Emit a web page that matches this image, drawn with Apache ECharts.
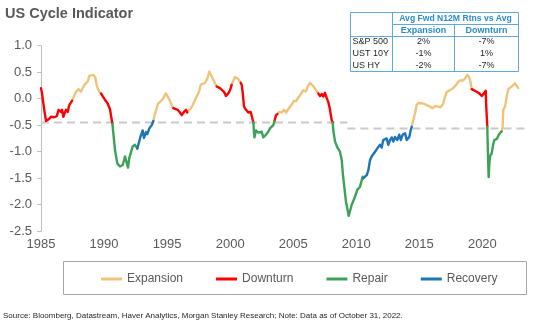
<!DOCTYPE html>
<html>
<head>
<meta charset="utf-8">
<script src="https://cdn.jsdelivr.net/npm/echarts@6/dist/echarts.min.js"></script>
<style>html,body{margin:0;padding:0;background:#fff;}#c{width:546px;height:322px;}</style>
</head>
<body>
<div id="c"></div>
<script>
// ---- data (year, indicator value) ----
const xTickYears = [1985, 1990, 1995, 2000, 2005, 2010, 2015, 2020];
const yTicks = [1.0, 0.5, 0.0, -0.5, -1.0, -1.5, -2.0, -2.5];

const expansion = [
  [[1987.46,-0.04],[1987.78,0.13],[1987.99,0.18],[1988.17,0.13],[1988.43,0.26],[1988.57,0.23],[1988.70,0.32],[1988.83,0.43],[1988.97,0.40],[1989.15,0.45],[1989.31,0.40],[1989.44,0.23],[1989.62,0.13],[1989.76,0.10]],
  [[1993.91,-0.42],[1994.04,-0.28],[1994.30,-0.09],[1994.57,-0.03],[1994.70,0.01],[1994.89,0.10],[1995.02,0.07],[1995.17,-0.01],[1995.36,-0.12],[1995.49,-0.18]],
  [[1996.60,-0.26],[1996.82,-0.20],[1997.03,-0.12],[1997.21,-0.03],[1997.35,0.04],[1997.53,0.13],[1997.66,0.26],[1997.82,0.28],[1998.01,0.30],[1998.19,0.38],[1998.35,0.51],[1998.48,0.48],[1998.62,0.38],[1998.80,0.29],[1998.93,0.23]],
  [[2000.12,0.26],[2000.25,0.34],[2000.38,0.41],[2000.65,0.37],[2000.84,0.30]],
  [[2003.74,-0.29],[2003.90,-0.25],[2004.09,-0.26],[2004.27,-0.21],[2004.43,-0.26],[2004.61,-0.20],[2004.75,-0.23],[2004.88,-0.11],[2005.06,-0.04],[2005.22,-0.05],[2005.40,0.02],[2005.59,0.08],[2005.80,0.16],[2006.01,0.14],[2006.15,0.23],[2006.33,0.30],[2006.47,0.28],[2006.65,0.22],[2006.81,0.16],[2006.99,0.10]],
  [[2014.40,-0.53],[2014.52,-0.40],[2014.66,-0.28],[2014.79,-0.12],[2014.92,-0.08],[2015.06,-0.06],[2015.32,-0.09],[2015.59,-0.12],[2015.85,-0.15],[2016.06,-0.18],[2016.24,-0.14],[2016.51,-0.15],[2016.70,-0.16],[2016.90,-0.09],[2017.04,0.04],[2017.17,0.13],[2017.43,0.16],[2017.70,0.20],[2017.91,0.26],[2018.09,0.32],[2018.28,0.35],[2018.44,0.34],[2018.62,0.38],[2018.81,0.45],[2018.96,0.40],[2019.08,0.29],[2019.16,0.18]],
  [[2021.53,-0.62],[2021.61,-0.53],[2021.66,-0.21],[2021.80,-0.15],[2021.93,0.04],[2022.06,0.18],[2022.19,0.20],[2022.33,0.23],[2022.45,0.22],[2022.59,0.29],[2022.72,0.24],[2022.85,0.20]]
];

const downturn = [
  [[1985.00,0.20],[1985.08,0.10],[1985.26,-0.21],[1985.40,-0.42],[1985.66,-0.38],[1985.79,-0.34],[1986.05,-0.35],[1986.25,-0.33],[1986.40,-0.21],[1986.59,-0.25],[1986.67,-0.21],[1986.77,-0.34],[1986.98,-0.21],[1987.12,-0.25],[1987.24,-0.12],[1987.46,-0.04]],
  [[1989.76,0.10],[1989.89,0.05],[1990.10,-0.03],[1990.29,-0.09],[1990.47,-0.20],[1990.63,-0.43],[1990.66,-0.47]],
  [[1995.49,-0.18],[1995.63,-0.15],[1995.84,-0.21],[1996.02,-0.26],[1996.16,-0.31],[1996.34,-0.25],[1996.50,-0.21],[1996.60,-0.26]],
  [[1998.93,0.23],[1999.06,0.26],[1999.19,0.20],[1999.33,0.23],[1999.51,0.13],[1999.67,0.05],[1999.85,0.10],[1999.99,0.16],[2000.12,0.26]],
  [[2000.84,0.30],[2000.92,0.26],[2001.00,0.10],[2001.10,-0.15],[2001.26,-0.21],[2001.44,-0.26],[2001.63,-0.25],[2001.73,-0.34],[2001.84,-0.45]],
  [[2003.50,-0.43],[2003.64,-0.31],[2003.74,-0.29]],
  [[2006.99,0.10],[2007.13,0.05],[2007.26,0.09],[2007.39,0.04],[2007.52,0.11],[2007.66,0.01],[2007.78,-0.06],[2007.92,-0.21],[2008.05,-0.40],[2008.13,-0.45]],
  [[2019.16,0.18],[2019.29,0.15],[2019.55,0.13],[2019.76,0.10],[2019.95,0.05],[2020.08,0.03],[2020.16,0.11],[2020.27,0.15],[2020.30,-0.10],[2020.39,-0.53]]
];

const repair = [
  [[1990.66,-0.47],[1990.87,-0.97],[1991.05,-1.22],[1991.26,-1.28],[1991.48,-1.25],[1991.66,-1.09],[1991.80,-1.10],[1991.90,-1.30],[1992.00,-1.12],[1992.11,-1.03],[1992.27,-0.90],[1992.45,-0.87],[1992.59,-0.90],[1992.64,-0.94]],
  [[2001.84,-0.45],[2001.92,-0.73],[2002.05,-0.60],[2002.23,-0.64],[2002.37,-0.67],[2002.50,-0.62],[2002.63,-0.73],[2002.84,-0.68],[2003.03,-0.62],[2003.16,-0.56],[2003.30,-0.59],[2003.42,-0.50],[2003.50,-0.43]],
  [[2008.13,-0.45],[2008.18,-0.60],[2008.31,-0.80],[2008.50,-0.92],[2008.71,-1.00],[2008.85,-1.16],[2008.95,-1.45],[2009.07,-1.70],[2009.19,-1.95],[2009.40,-2.21],[2009.64,-2.00],[2009.90,-1.85],[2010.08,-1.72],[2010.30,-1.66],[2010.51,-1.47],[2010.56,-1.50]],
  [[2020.39,-0.53],[2020.45,-1.10],[2020.50,-1.48],[2020.56,-1.20],[2020.62,-1.08],[2020.74,-1.03],[2020.87,-0.85],[2020.95,-0.78],[2021.05,-0.80],[2021.15,-0.76],[2021.30,-0.68],[2021.42,-0.64],[2021.53,-0.62]]
];

const recovery = [
  [[1992.64,-0.94],[1992.85,-0.75],[1993.06,-0.60],[1993.17,-0.74],[1993.33,-0.63],[1993.43,-0.67],[1993.59,-0.56],[1993.78,-0.50],[1993.91,-0.42]],
  [[2010.56,-1.50],[2010.83,-1.44],[2010.96,-1.35],[2011.09,-1.16],[2011.22,-1.09],[2011.35,-1.12],[2011.49,-1.00],[2011.62,-0.97],[2011.75,-0.91],[2011.88,-0.87],[2012.02,-0.92],[2012.14,-0.78],[2012.28,-0.81],[2012.41,-0.75],[2012.54,-0.87],[2012.68,-0.78],[2012.81,-0.73],[2012.94,-0.81],[2013.07,-0.72],[2013.25,-0.78],[2013.41,-0.68],[2013.53,-0.78],[2013.68,-0.68],[2013.87,-0.65],[2014.00,-0.78],[2014.21,-0.72],[2014.32,-0.59],[2014.40,-0.53]]
];

const thresholdEarly = [[1985.0,-0.45],[2009.3,-0.45]];
const thresholdLate = [[2009.3,-0.56],[2023.4,-0.56]];

const tableHeader = 'Avg Fwd N12M Rtns vs Avg';
const tableCols = ['Expansion', 'Downturn'];
const tableRows = ['S&P 500', 'UST 10Y', 'US HY'];
const tableExpansion = ['2%', '-1%', '-2%'];
const tableDownturn = ['-7%', '1%', '-7%'];

// ---- chart ----
const FONT = '"Liberation Sans", Arial, sans-serif';
const regimes = [
  {name: 'Expansion', color: '#f0c37b', segs: expansion},
  {name: 'Downturn', color: '#ff0000', segs: downturn},
  {name: 'Repair', color: '#3ca257', segs: repair},
  {name: 'Recovery', color: '#1f74b7', segs: recovery}
];

const series = [];
[thresholdEarly, thresholdLate].forEach(d => series.push({
  type: 'line', data: d, symbol: 'none', silent: true, z: 1,
  lineStyle: {color: '#cacaca', width: 2, type: [8, 5]}
}));
regimes.forEach(r => r.segs.forEach(seg => series.push({
  name: r.name, type: 'line', data: seg, symbol: 'none', silent: true, z: 3,
  color: r.color,
  lineStyle: {color: r.color, width: 2.4, join: 'round', cap: 'round'}
})));

const graphics = [];
// title
graphics.push({type: 'text', x: 5, y: 13.5, silent: true,
  style: {text: 'US Cycle Indicator', font: 'bold 14.5px ' + FONT, fill: '#595959', textVerticalAlign: 'middle'}});
// legend box
graphics.push({type: 'rect', shape: {x: 63.5, y: 261.5, width: 463, height: 33}, silent: true,
  style: {fill: 'none', stroke: '#a6a6a6', lineWidth: 1}});
// table
const tb = {x0: 350.5, x1: 392.5, x2: 454.5, x3: 518.5, y0: 12.5, y1: 24.5, y2: 36.5, y3: 71.5};
const lineCol = '#62a9d6';
graphics.push({type: 'rect', shape: {x: tb.x0, y: tb.y0, width: tb.x3 - tb.x0, height: tb.y3 - tb.y0}, silent: true,
  style: {fill: '#ffffff', stroke: lineCol, lineWidth: 1}});
[[tb.x1, tb.y0, tb.x1, tb.y3], [tb.x2, tb.y1, tb.x2, tb.y3], [tb.x1, tb.y1, tb.x3, tb.y1], [tb.x0, tb.y2, tb.x3, tb.y2]].forEach(l =>
  graphics.push({type: 'line', silent: true, shape: {x1: l[0], y1: l[1], x2: l[2], y2: l[3]}, style: {stroke: lineCol, lineWidth: 1}}));
const blue = '#2b8cc6';
graphics.push({type: 'text', x: (tb.x1 + tb.x3) / 2, y: 18.8, silent: true,
  style: {text: tableHeader, font: 'bold 8.6px ' + FONT, fill: blue, textAlign: 'center', textVerticalAlign: 'middle'}});
tableCols.forEach((t, i) => graphics.push({type: 'text', x: i === 0 ? (tb.x1 + tb.x2) / 2 : (tb.x2 + tb.x3) / 2, y: 30.6, silent: true,
  style: {text: t, font: 'bold 9px ' + FONT, fill: blue, textAlign: 'center', textVerticalAlign: 'middle'}}));
const rowY = [42, 53.5, 65.2];
tableRows.forEach((t, i) => {
  graphics.push({type: 'text', x: 352.5, y: rowY[i], silent: true,
    style: {text: t, font: '9px ' + FONT, fill: '#262626', textVerticalAlign: 'middle'}});
  graphics.push({type: 'text', x: (tb.x1 + tb.x2) / 2, y: rowY[i], silent: true,
    style: {text: tableExpansion[i], font: '9px ' + FONT, fill: '#262626', textAlign: 'center', textVerticalAlign: 'middle'}});
  graphics.push({type: 'text', x: (tb.x2 + tb.x3) / 2, y: rowY[i], silent: true,
    style: {text: tableDownturn[i], font: '9px ' + FONT, fill: '#262626', textAlign: 'center', textVerticalAlign: 'middle'}});
});
// source
graphics.push({type: 'text', x: 3, y: 315.5, silent: true,
  style: {text: 'Source: Bloomberg, Datastream, Haver Analytics, Morgan Stanley Research; Note: Data as of October 31, 2022.',
    font: '8px ' + FONT, fill: '#1f1f1f', textVerticalAlign: 'middle'}});

const chart = echarts.init(document.getElementById('c'), null, {renderer: 'canvas'});
chart.setOption({
  animation: false,
  backgroundColor: '#ffffff',
  textStyle: {fontFamily: FONT},
  grid: {left: 41, right: 13.2, top: 45.7, bottom: 90.8, containLabel: false},
  xAxis: {
    type: 'value', min: 1985, max: 2024, interval: 5,
    axisLine: {show: false}, axisTick: {show: false}, splitLine: {show: false},
    axisLabel: {color: '#595959', fontSize: 13, margin: 7, fontFamily: FONT,
      formatter: v => xTickYears.indexOf(v) >= 0 ? String(v) : ''}
  },
  yAxis: {
    type: 'value', min: -2.5, max: 1.0, interval: 0.5,
    axisLine: {show: true, lineStyle: {color: '#bfbfbf', width: 1}},
    axisTick: {show: true, length: 4, lineStyle: {color: '#bfbfbf'}},
    splitLine: {show: false},
    axisLabel: {color: '#595959', fontSize: 13, margin: 9, fontFamily: FONT,
      formatter: v => { const t = yTicks.find(k => Math.abs(k - v) < 1e-9); return t === undefined ? '' : t.toFixed(1); }}
  },
  legend: {
    data: regimes.map(r => r.name), left: 101, top: 273, orient: 'horizontal', padding: 0,
    icon: 'rect', itemWidth: 21, itemHeight: 3, itemGap: 33, selectedMode: false,
    textStyle: {color: '#595959', fontSize: 12, fontFamily: FONT}
  },
  graphic: graphics,
  series: series
});
</script>
</body>
</html>
